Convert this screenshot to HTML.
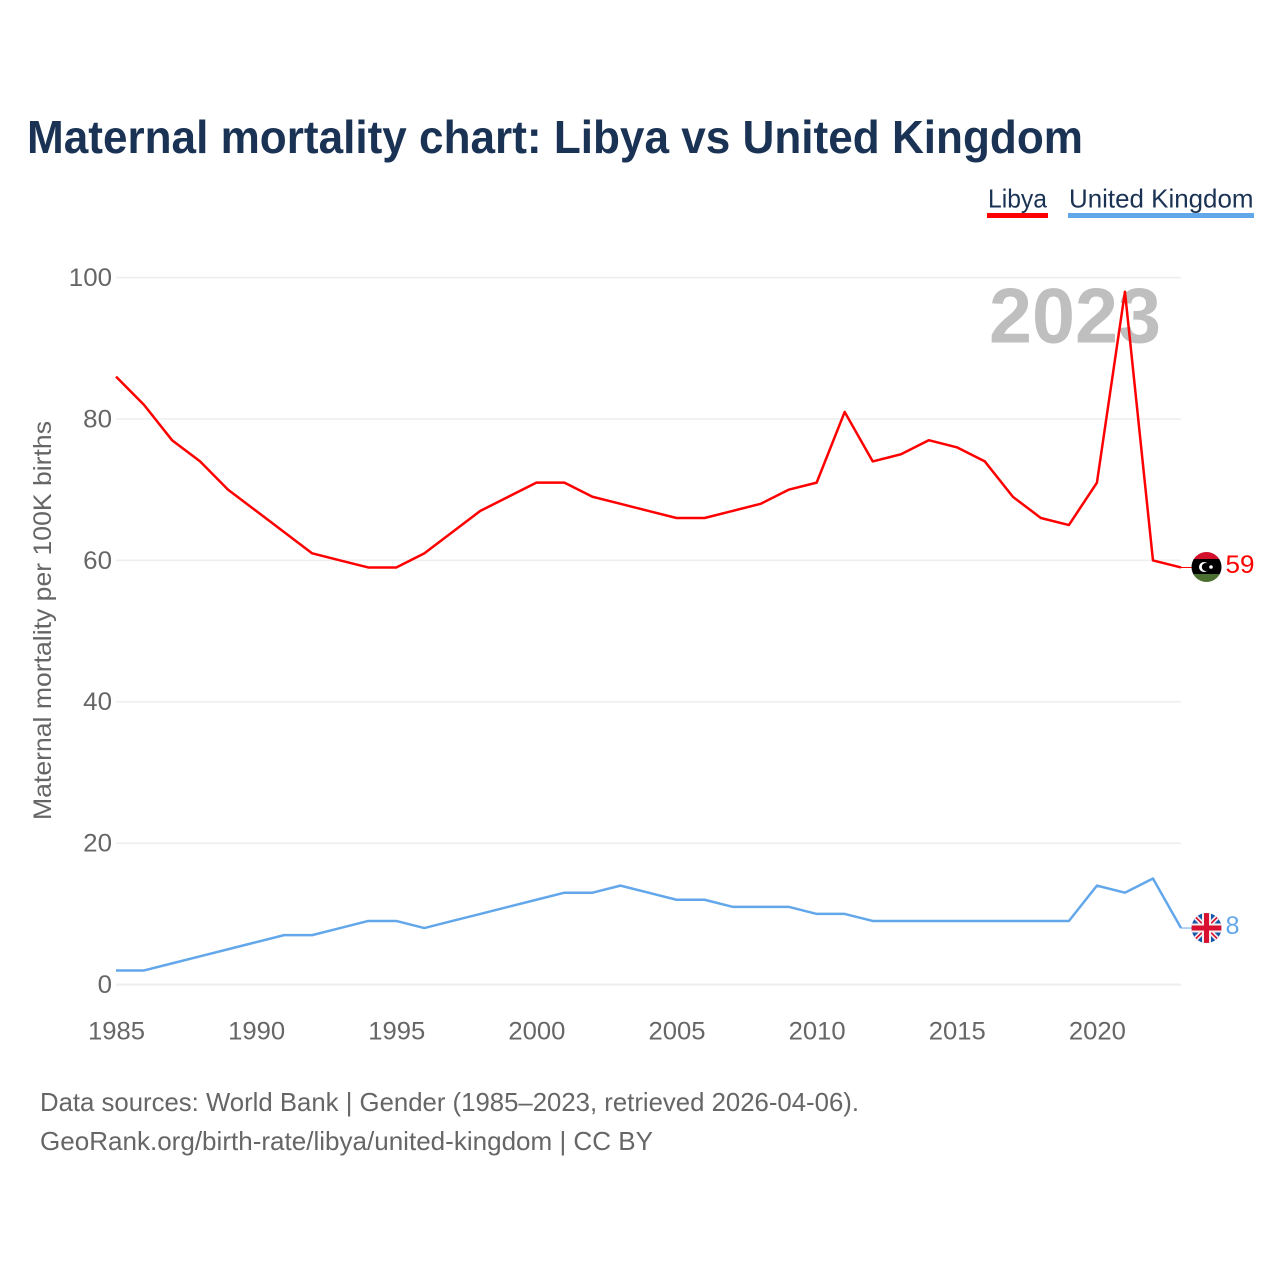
<!DOCTYPE html>
<html lang="en">
<head>
<meta charset="utf-8">
<title>Maternal mortality chart: Libya vs United Kingdom</title>
<style>
html,body{margin:0;padding:0;background:#fff;width:1280px;height:1280px;overflow:hidden}
svg{display:block}
text{font-family:"Liberation Sans",sans-serif}
</style>
</head>
<body>
<svg id="chart" width="1280" height="1280" viewBox="0 0 1280 1280" xmlns="http://www.w3.org/2000/svg">
  <defs>
    <clipPath id="clip-libya"><circle cx="1206.5" cy="567" r="15"/></clipPath>
    <clipPath id="clip-uk"><circle cx="1206.5" cy="928" r="15"/></clipPath>
  </defs>
  <rect x="0" y="0" width="1280" height="1280" fill="#fff"/>
  <text x="27" y="153" font-size="46" font-weight="700" fill="#1a3354" textLength="1056" lengthAdjust="spacingAndGlyphs">Maternal mortality chart: Libya vs United Kingdom</text>

  <g>
    <g>
      <text x="988" y="207.5" font-size="26" fill="#1a3354" textLength="59" lengthAdjust="spacingAndGlyphs">Libya</text>
      <rect x="987" y="213" width="61" height="5" fill="#ff0000"/>
    </g>
    <g>
      <text x="1069" y="207.5" font-size="26" fill="#1a3354" textLength="184.5" lengthAdjust="spacingAndGlyphs">United Kingdom</text>
      <rect x="1068" y="213" width="186" height="5" fill="#63a7eb"/>
    </g>
  </g>

  <g id="grid"></g>
  <g id="y-ticks"></g>
  <g id="x-ticks"></g>

  <text transform="translate(51,820) rotate(-90)" x="0" y="0" font-size="25" fill="#666" textLength="399" lengthAdjust="spacingAndGlyphs">Maternal mortality per 100K births</text>
  <text x="989" y="342.5" font-size="78" font-weight="700" fill="#bfbfbf" textLength="172" lengthAdjust="spacingAndGlyphs">2023</text>

  <g id="series"></g>

  <g clip-path="url(#clip-libya)">
    <rect x="1191" y="552" width="31" height="8" fill="#d2102c"/>
    <rect x="1191" y="559" width="31" height="16" fill="#000"/>
    <rect x="1191" y="574" width="31" height="9" fill="#4c7030"/>
    <circle cx="1204" cy="567" r="5" fill="#fff"/>
    <circle cx="1205.8" cy="567" r="4" fill="#000"/>
    <circle cx="1211" cy="567" r="1.8" fill="#fff"/>
  </g>
  <g clip-path="url(#clip-uk)">
    <rect x="1191" y="913" width="31" height="30" fill="#1456aa"/>
    <path d="M1191.5 913L1221.5 943M1221.5 913L1191.5 943" stroke="#f4eeee" stroke-width="5"/>
    <path d="M1191.5 913L1221.5 943M1221.5 913L1191.5 943" stroke="#d80f2f" stroke-width="1.6"/>
    <path d="M1206.5 913V943M1191 928H1222" stroke="#f4eeee" stroke-width="9"/>
    <path d="M1206.5 913V943M1191 928H1222" stroke="#d80f2f" stroke-width="5"/>
  </g>

  <text x="1225.5" y="573" font-size="25" fill="#ff0000" textLength="29" lengthAdjust="spacingAndGlyphs">59</text>
  <text x="1225.5" y="934" font-size="25" fill="#63a7eb" textLength="14" lengthAdjust="spacingAndGlyphs">8</text>

  <text x="40" y="1111" font-size="26" fill="#666" textLength="819" lengthAdjust="spacingAndGlyphs">Data sources: World Bank | Gender (1985–2023, retrieved 2026-04-06).</text>
  <a><text x="40" y="1150" font-size="26" fill="#666" textLength="613" lengthAdjust="spacingAndGlyphs">GeoRank.org/birth-rate/libya/united-kingdom | CC BY</text></a>
</svg>
<script>
const years = [1985,1986,1987,1988,1989,1990,1991,1992,1993,1994,1995,1996,1997,1998,1999,2000,2001,2002,2003,2004,2005,2006,2007,2008,2009,2010,2011,2012,2013,2014,2015,2016,2017,2018,2019,2020,2021,2022,2023];
const libyaValues = [86,82,77,74,70,67,64,61,60,59,59,61,64,67,69,71,71,69,68,67,66,66,67,68,70,71,81,74,75,77,76,74,69,66,65,71,98,60,59];
const ukValues = [2,2,3,4,5,6,7,7,8,9,9,8,9,10,11,12,13,13,14,13,12,12,11,11,11,10,10,9,9,9,9,9,9,9,9,14,13,15,8];
const yTickValues = [0,20,40,60,80,100];
const xTickValues = [1985,1990,1995,2000,2005,2010,2015,2020];

const NS = 'http://www.w3.org/2000/svg';
const plot = {left: 116, right: 1181, top: 277.6, bottom: 984.6};
function xScale(year) {
  return plot.left + (year - years[0]) / (years[years.length - 1] - years[0]) * (plot.right - plot.left);
}
function yScale(value) {
  return plot.bottom - value / 100 * (plot.bottom - plot.top);
}
function make(tag, attrs) {
  const el = document.createElementNS(NS, tag);
  for (const k in attrs) el.setAttribute(k, attrs[k]);
  return el;
}

const gridG = document.getElementById('grid');
const yG = document.getElementById('y-ticks');
yTickValues.forEach(function (v) {
  const line = make('line', {x1: plot.left, x2: plot.right, y1: yScale(v), y2: yScale(v), stroke: '#eeeeee', 'stroke-width': v === 0 ? 2 : 1.5});
  
  
  gridG.appendChild(line);
  const label = String(v);
  const t = make('text', {x: 112 - label.length * 14.4, y: yScale(v) + 8.4, 'font-size': 25, fill: '#666', textLength: label.length * 14.4, lengthAdjust: 'spacingAndGlyphs'});
  t.textContent = label;
  
  
  yG.appendChild(t);
});

const xG = document.getElementById('x-ticks');
xTickValues.forEach(function (yr) {
  const t = make('text', {x: xScale(yr) - 28, y: 1039.5, 'font-size': 25, fill: '#666', textLength: 57, lengthAdjust: 'spacingAndGlyphs'});
  t.textContent = String(yr);
  
  
  xG.appendChild(t);
});

function pointsFor(values) {
  return values.map(function (v, i) {
    return xScale(years[i]).toFixed(2) + ',' + yScale(v).toFixed(2);
  }).join(' ');
}

const seriesG = document.getElementById('series');

const libyaLine = make('polyline', {points: pointsFor(libyaValues), fill: 'none', stroke: '#ff0000', 'stroke-width': 2.5, 'stroke-linejoin': 'round'});


seriesG.appendChild(libyaLine);

const ukLine = make('polyline', {points: pointsFor(ukValues), fill: 'none', stroke: '#63a7eb', 'stroke-width': 2.5, 'stroke-linejoin': 'round'});


seriesG.appendChild(ukLine);

const libyaConnector = make('line', {x1: plot.right, x2: 1192, y1: yScale(libyaValues[libyaValues.length - 1]), y2: yScale(libyaValues[libyaValues.length - 1]), stroke: '#ff0000', 'stroke-width': 1});


seriesG.appendChild(libyaConnector);

const ukConnector = make('line', {x1: plot.right, x2: 1192, y1: yScale(ukValues[ukValues.length - 1]), y2: yScale(ukValues[ukValues.length - 1]), stroke: '#63a7eb', 'stroke-width': 1});


seriesG.appendChild(ukConnector);
</script>
</body>
</html>
